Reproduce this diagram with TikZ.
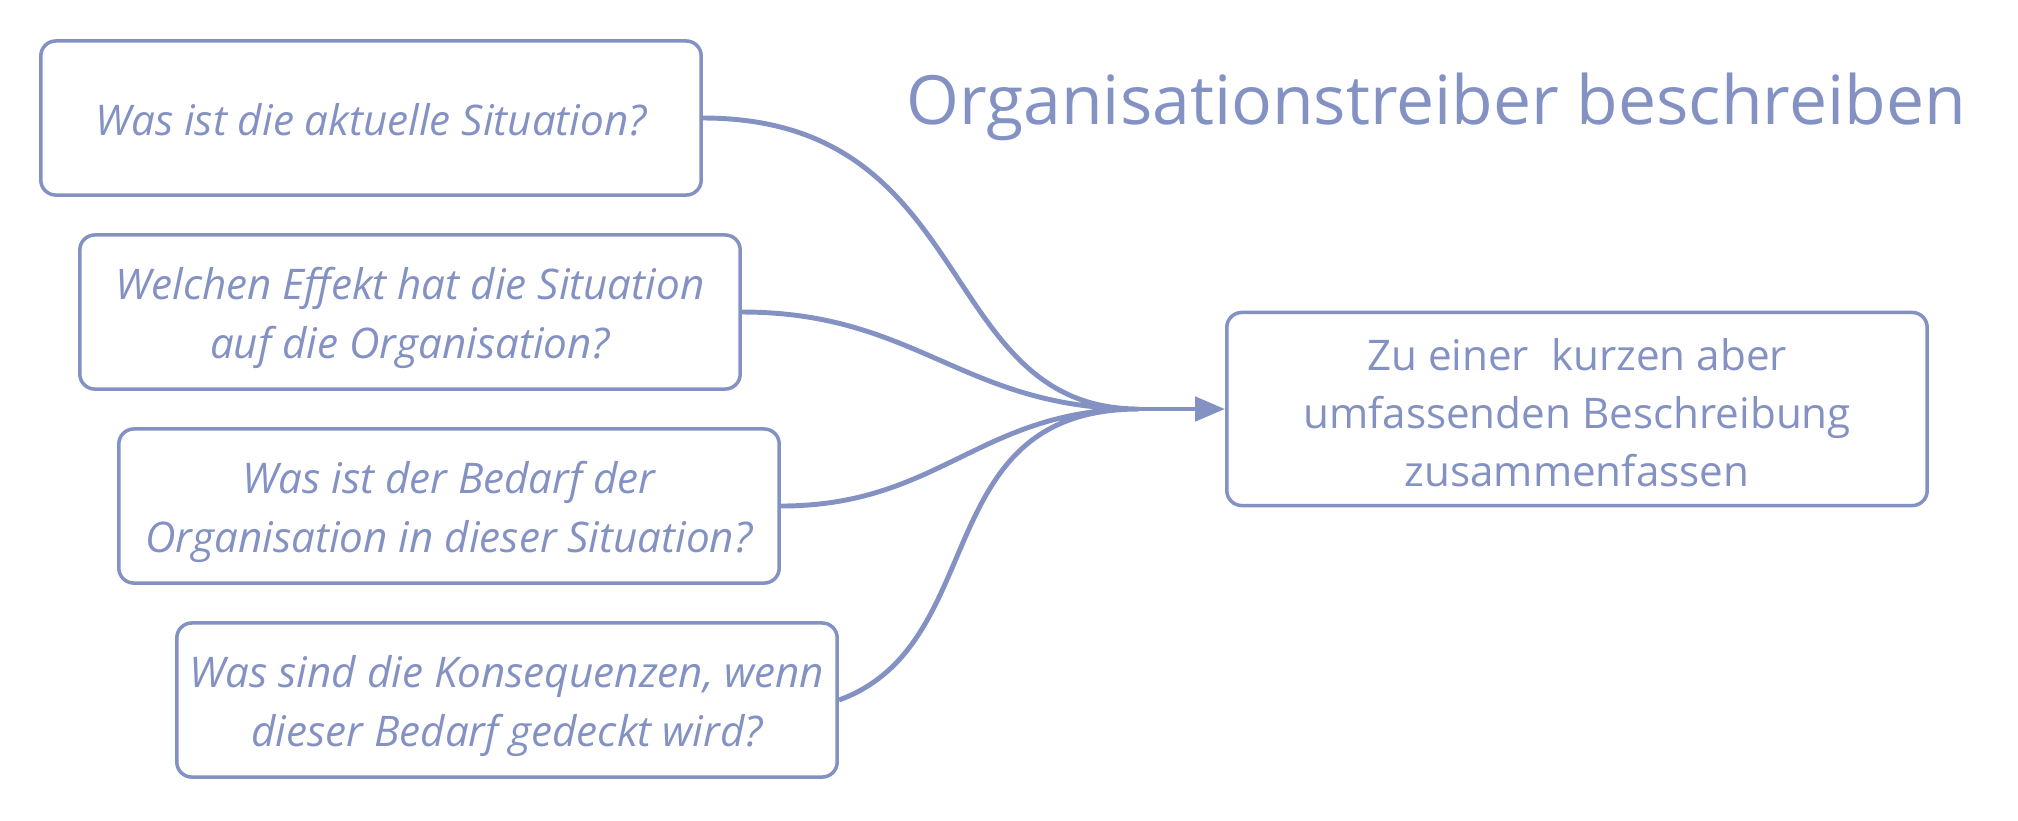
\documentclass[tikz,border=0pt]{standalone}
\usepackage{fontspec}
\setmainfont{Open Sans}
\usetikzlibrary{arrows.meta}
\definecolor{drvblue}{HTML}{8391C3}

\begin{document}
\begin{tikzpicture}[x=0.01cm,y=-0.01cm,>={Triangle[length=0.3cm,width=0.24cm]},
  color=drvblue,line width=1pt,
  question/.style={draw,rounded corners=0.15cm,minimum width=6.6cm,minimum height=1.54cm,
    inner sep=0pt,text height=29.4pt,align=center,font=\itshape\fontsize{12}{16.8}\selectfont},
  result/.style={draw,rounded corners=0.15cm,minimum width=7cm,minimum height=1.93cm,
    inner sep=0pt,text height=44.4pt,align=center,font=\fontsize{12}{16.6}\selectfont},
  link/.style={line width=1.4pt,looseness=1.1}]

  \useasboundingbox (0,0) rectangle (2018,820);

% define the questions on the left
  \node[question,text height=10.3pt] (sit) at (371,118) {Was ist die aktuelle Situation?};
  \node[question] (eff) at (410,312) {Welchen Effekt hat die Situation\\auf die Organisation?};
  \node[question] (bed) at (449,506) {Was ist der Bedarf der\\Organisation in dieser Situation?};
  \node[question] (kon) at (507,700) {Was sind die Konsequenzen, wenn\\dieser Bedarf gedeckt wird?};

% define the result and the title
  \node[result] (res) at (1577,409) {Zu einer\ \ kurzen aber\\umfassenden Beschreibung\\zusammenfassen};
  \node[anchor=base,font=\fontsize{19.3}{24}\selectfont] (title) at (1436,124) {Organisationstreiber beschreiben};
  \coordinate (merge) at (1139,409);

% define the links
  \path[draw,link] (sit.east) to[out=0,in=180,out looseness=1.35,in looseness=1] (merge)
              (eff.east) to[out=0,in=180] (merge)
              (bed.east) to[out=0,in=180] (merge)
              (kon.east) to[out=20,in=180,out looseness=1,in looseness=1.3] (merge);
  \draw[->,link] (merge) -- (res.west);

\end{tikzpicture}
\end{document}
